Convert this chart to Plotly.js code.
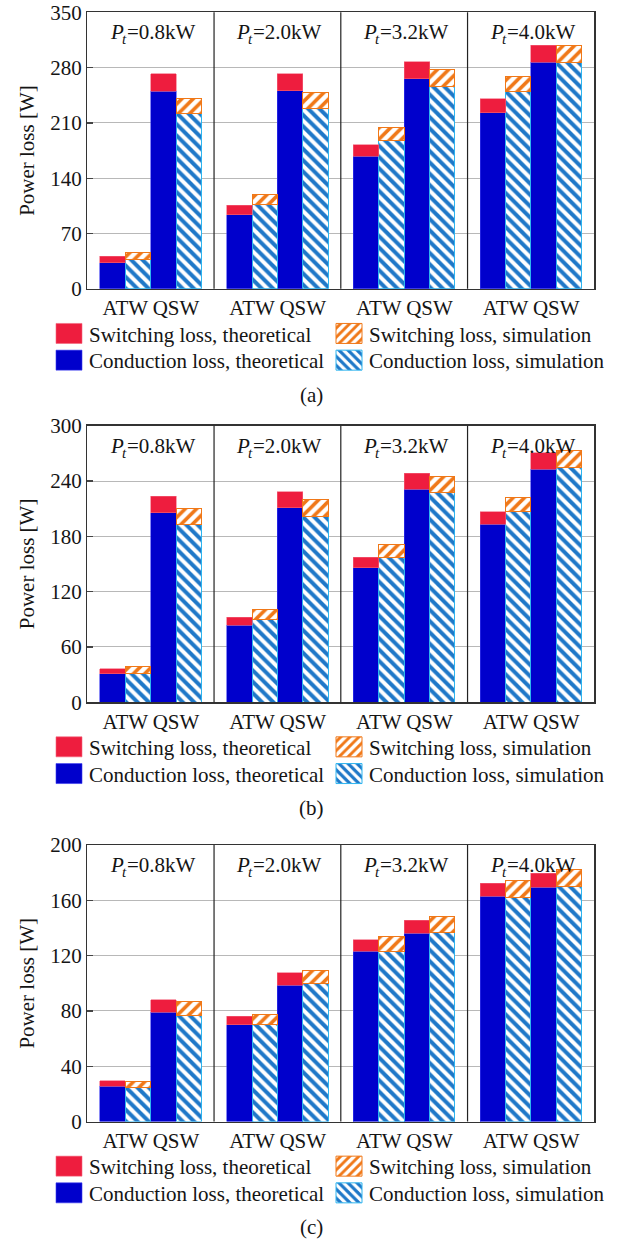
<!DOCTYPE html>
<html>
<head>
<meta charset="utf-8">
<script src="https://cdn.plot.ly/plotly-3.0.1.min.js"></script>
<style>
  html, body { margin: 0; padding: 0; background: #ffffff; }
  #chart { width: 627px; height: 1242px; }
</style>
</head>
<body>
<div id="chart"></div>
<script>
// Output power levels and converter topologies
const loadLevels = ['0.8', '2.0', '3.2', '4.0'];
const topologies = ['ATW', 'QSW'];
const panelTags = ['(a)', '(b)', '(c)'];
const yMaxes = [350, 300, 200];
const ySteps = [70, 60, 40];

// Power losses [W], ordered ATW, QSW for each load level
const condTheoA = [33, 250, 93.5, 251, 167.5, 266, 223, 286.5];
const swTheoA   = [8, 22, 12, 21.5, 15, 21.5, 17.5, 21.5];
const condSimA  = [37, 221.5, 107, 228.5, 187.5, 256.5, 249.5, 287];
const swSimA    = [8.5, 20, 12, 20.5, 17, 20.5, 19, 21];

const condTheoB = [31, 205.5, 83.5, 211, 146, 231, 193, 253];
const swTheoB   = [5.5, 18, 8.5, 17.5, 11.5, 17.5, 13.5, 17.5];
const condSimB  = [31.5, 193, 90, 201.5, 157.5, 227, 206.5, 254.5];
const swSimB    = [7, 17.5, 10.5, 18, 14, 18, 16, 18.5];

const condTheoC = [25.5, 79, 70, 98.5, 123, 136, 163, 169.5];
const swTheoC   = [4, 9, 6, 9, 8.5, 9.5, 9.5, 10];
const condSimC  = [24.5, 77, 70, 99.5, 123, 137, 162, 170];
const swSimC    = [4.5, 9.5, 7.5, 10, 10.5, 11, 12, 12];

const panels = [
  { condTheo: condTheoA, swTheo: swTheoA, condSim: condSimA, swSim: swSimA },
  { condTheo: condTheoB, swTheo: swTheoB, condSim: condSimB, swSim: swSimB },
  { condTheo: condTheoC, swTheo: swTheoC, condSim: condSimC, swSim: swSimC }
];

const FONT = 'Liberation Serif, Times New Roman, serif';
const TXT = '#151515';
const W = 627, H = 1242;

// each load level takes 5 slots: 4 bars plus one slot of spacing
const SLOT = 5;
const theoX = [], simX = [], tickX = [], tickText = [];
loadLevels.forEach((_, g) => {
  topologies.forEach((name, t) => {
    theoX.push(g * SLOT + 1 + 2 * t);
    simX.push(g * SLOT + 2 + 2 * t);
    tickX.push(g * SLOT + 1.5 + 2 * t);
    tickText.push(name);
  });
});

// pixel geometry of the three stacked panels (top of plot area)
const plotLeft = 87.3, plotRight = 594.3;
const plotTops = [12.3, 425.7, 845];
const plotH = 276.5;
const px = v => v / W;
const py = v => 1 - v / H;

const traces = [];
const layout = {
  width: W, height: H,
  margin: { l: 0, r: 0, t: 0, b: 0 },
  paper_bgcolor: '#ffffff', plot_bgcolor: '#ffffff',
  font: { family: FONT, size: 21, color: TXT },
  barmode: 'stack', bargap: 0,
  showlegend: true,
  shapes: [], annotations: []
};

const legendId = n => (n === 1 ? 'legend' : 'legend' + n);

panels.forEach((p, i) => {
  const sfx = i === 0 ? '' : String(i + 1);
  const xa = 'x' + sfx, ya = 'y' + sfx;
  const lgTop = legendId(2 * i + 1), lgBot = legendId(2 * i + 2);
  const common = { type: 'bar', xaxis: xa, yaxis: ya, width: 1, hoverinfo: 'skip' };

  traces.push(Object.assign({}, common, {
    name: 'Conduction loss, theoretical', x: theoX, y: p.condTheo, legend: lgBot, legendrank: 1,
    marker: { color: '#0000cc', line: { color: '#3a3af0', width: 0.6 } }
  }));
  traces.push(Object.assign({}, common, {
    name: 'Conduction loss, simulation', x: simX, y: p.condSim, legend: lgBot, legendrank: 2,
    marker: { color: '#ffffff', line: { color: '#2db4ef', width: 1 },
      pattern: { shape: '\\', fgcolor: '#1f78c8', bgcolor: '#ffffff', size: 8, solidity: 0.5 } }
  }));
  traces.push(Object.assign({}, common, {
    name: 'Switching loss, theoretical', x: theoX, y: p.swTheo, legend: lgTop, legendrank: 1,
    marker: { color: '#ee1d3e', line: { color: '#f4647c', width: 0.6 } }
  }));
  traces.push(Object.assign({}, common, {
    name: 'Switching loss, simulation', x: simX, y: p.swSim, legend: lgTop, legendrank: 2,
    marker: { color: '#ffffff', line: { color: '#f07818', width: 1 },
      pattern: { shape: '/', fgcolor: '#f07818', bgcolor: '#ffffff', size: 8, solidity: 0.45 } }
  }));

  const top = plotTops[i], bottom = top + plotH;
  layout['xaxis' + sfx] = {
    domain: [px(plotLeft), px(plotRight)], anchor: ya,
    range: [0, loadLevels.length * SLOT], fixedrange: true,
    tickmode: 'array', tickvals: tickX, ticktext: tickText,
    ticks: '', showgrid: false, zeroline: false,
    showline: true, mirror: true, linecolor: '#333333', linewidth: 1.3,
    tickfont: { family: FONT, size: 21, color: TXT }
  };
  layout['yaxis' + sfx] = {
    domain: [py(bottom), py(top)], anchor: xa,
    range: [0, yMaxes[i]], tick0: 0, dtick: ySteps[i], fixedrange: true,
    ticks: 'inside', ticklen: 6, tickcolor: '#444444', tickwidth: 1.3,
    showgrid: true, gridcolor: '#b8b8b8', gridwidth: 1, zeroline: false,
    showline: true, mirror: true, linecolor: '#333333', linewidth: 1.3,
    tickfont: { family: FONT, size: 21, color: TXT },
    title: { text: 'Power loss [W]', font: { family: FONT, size: 21, color: TXT }, standoff: 10 }
  };

  // separators between load levels
  for (let g = 1; g < loadLevels.length; g++) {
    layout.shapes.push({
      type: 'line', xref: xa, yref: ya + ' domain',
      x0: g * SLOT, x1: g * SLOT, y0: 0, y1: 1,
      line: { color: '#222222', width: 1.2 }
    });
  }
  // load level labels: italic P, subscript t, then the value
  const labelY = 1 - 20 / plotH;
  loadLevels.forEach((lv, g) => {
    const cx = g * SLOT + SLOT / 2;
    const base = { xref: xa, yref: ya + ' domain', x: cx, y: labelY,
      xanchor: 'left', yanchor: 'middle', showarrow: false };
    layout.annotations.push(Object.assign({}, base, {
      xshift: -43, text: '<i>P</i>', font: { family: FONT, size: 21, color: TXT }
    }));
    layout.annotations.push(Object.assign({}, base, {
      xshift: -31, yshift: -7, text: '<i>t</i>', font: { family: FONT, size: 15, color: TXT }
    }));
    layout.annotations.push(Object.assign({}, base, {
      xshift: -26, text: '=' + lv + 'kW', font: { family: FONT, size: 21, color: TXT }
    }));
  });
  // panel tag
  layout.annotations.push({
    xref: 'paper', yref: 'paper', x: px(311), y: py(bottom + 105.7),
    xanchor: 'center', yanchor: 'middle', showarrow: false,
    text: panelTags[i], font: { family: FONT, size: 21, color: TXT }
  });

  const legendBase = {
    orientation: 'h', x: px(49), xanchor: 'left', yanchor: 'middle',
    entrywidth: 235, entrywidthmode: 'pixels', traceorder: 'normal',
    bgcolor: 'rgba(0,0,0,0)', borderwidth: 0,
    font: { family: FONT, size: 21, color: TXT }
  };
  layout[lgTop] = Object.assign({}, legendBase, { y: py(bottom + 45) });
  layout[lgBot] = Object.assign({}, legendBase, { y: py(bottom + 71.7) });
});

// larger legend swatches
function enlargeSwatches(gd) {
  gd.querySelectorAll('g.legendpoints path').forEach(el => {
    el.setAttribute('d', 'M13,10H-13V-10H13Z');
  });
}

Plotly.newPlot('chart', traces, layout, { displayModeBar: false, staticPlot: true }).then(gd => {
  enlargeSwatches(gd);
  gd.on('plotly_afterplot', () => enlargeSwatches(gd));
  setTimeout(() => enlargeSwatches(gd), 50);
  setTimeout(() => enlargeSwatches(gd), 400);
});
</script>
</body>
</html>
